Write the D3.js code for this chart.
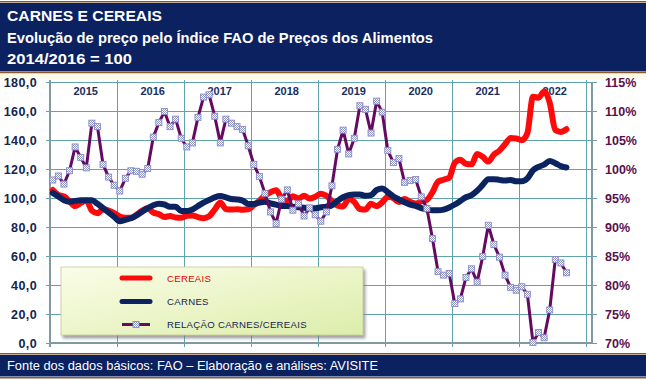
<!DOCTYPE html>
<html><head><meta charset="utf-8">
<script src="https://cdn.jsdelivr.net/npm/d3@7"></script>
<style>
html,body{margin:0;padding:0;background:#fff;}
svg{display:block;font-family:"Liberation Sans",Arial,sans-serif;}
</style></head>
<body>
<svg id="chart" width="646" height="380"></svg>
<script>
// ---- data (monthly, Jan 2015 .. Sep 2022) ----
const years = ["2015","2016","2017","2018","2019","2020","2021","2022"];
const cereais = [
 105.5,102.2,101.1,97.8,94.4,96.6,98.3,91.3,89.5,92.3,91.3,89.5,
 87.3,86.4,86.3,88.4,91.3,92.9,90.0,88.9,86.9,87.6,86.6,86.4,
 87.7,88.0,86.8,86.1,87.4,92.0,96.9,92.4,92.0,92.3,91.9,92.2,
 95.1,98.1,101.8,104.0,105.3,99.7,98.0,101.2,99.6,101.5,99.6,100.9,
 102.9,101.5,97.8,94.8,94.2,99.4,97.3,92.4,92.0,96.0,94.4,97.0,
 100.8,99.9,97.2,99.3,97.4,96.2,97.7,98.7,104.0,111.2,112.6,114.0,
 124.3,126.3,123.6,123.2,130.4,128.4,125.1,129.9,132.7,137.1,141.3,141.0,
 139.9,144.8,169.8,169.2,173.5,165.8,146.9,145.6,147.4];
const carnes = [
 103.5,101.0,98.5,97.5,98.0,98.5,98.5,98.5,96.0,93.0,90.0,87.0,
 84.0,85.0,86.0,88.0,90.5,93.0,95.0,96.0,95.5,94.0,94.0,91.0,
 91.0,92.0,94.5,96.8,98.6,100.4,101.3,100.4,99.3,99.0,98.2,95.9,
 95.9,96.8,97.5,96.3,95.4,94.5,94.5,94.0,93.6,93.3,92.9,92.9,
 93.6,94.0,95.0,98.0,100.5,102.0,102.5,102.5,101.5,102.0,105.5,106.5,
 104.0,101.0,99.0,97.0,95.5,94.5,93.0,92.0,91.5,91.5,92.0,93.5,
 95.5,98.0,100.5,102.0,105.0,109.0,113.0,113.0,112.5,112.0,112.5,111.5,
 111.5,113.5,119.0,121.5,123.0,125.5,124.0,122.0,121.0];
const relacao = [
 98.1,98.8,97.4,99.7,103.8,102.0,100.2,107.9,107.3,100.8,98.6,97.2,
 96.2,98.4,99.7,99.6,99.1,100.1,105.5,108.0,109.9,107.3,108.6,105.3,
 103.8,104.5,108.9,112.4,112.8,109.1,104.5,108.6,107.9,107.3,106.8,104.0,
 100.8,98.7,95.8,92.6,90.6,94.8,96.4,92.9,94.0,91.9,93.3,92.1,
 91.0,92.6,97.1,103.4,106.7,102.6,105.3,110.9,110.3,106.2,111.7,109.8,
 103.2,101.1,101.8,97.7,98.0,98.2,95.2,93.2,88.0,82.3,81.7,82.0,
 76.8,77.6,81.3,82.8,80.5,84.9,90.3,87.0,84.8,81.7,79.6,79.1,
 79.7,78.4,70.1,71.8,70.9,75.7,84.4,83.8,82.1];
const leftTicks = [0,20,40,60,80,100,120,140,160,180];
const rightTicks = [70,75,80,85,90,95,100,105,110,115];
const seriesNames = ["CEREAIS","CARNES","RELAÇÃO CARNES/CEREAIS"];
const titleLines = ["CARNES E CEREAIS","Evolução de preço pelo Índice FAO de Preços dos Alimentos","2014/2016 = 100"];
const sourceText = "Fonte dos dados básicos: FAO – Elaboração e análises: AVISITE";

// ---- layout ----
const svg = d3.select("#chart");
const W = 646, H = 380;
const plot = {l:50, r:592, t:82, b:343};
const x = d3.scaleLinear().domain([0, years.length*12]).range([plot.l, 586]);
const yL = d3.scaleLinear().domain([0,180]).range([plot.b, plot.t]);
const yR = d3.scaleLinear().domain([70,115]).range([plot.b, plot.t]);

const defs = svg.append("defs");
const pat = defs.append("pattern").attr("id","chk").attr("width",2).attr("height",2).attr("patternUnits","userSpaceOnUse");
pat.append("rect").attr("width",2).attr("height",2).attr("fill","#ffffff");
pat.append("rect").attr("width",1).attr("height",1).attr("fill","#8d97cf");
pat.append("rect").attr("x",1).attr("y",1).attr("width",1).attr("height",1).attr("fill","#8d97cf");
const lg = defs.append("linearGradient").attr("id","lg").attr("x1","0").attr("y1","0").attr("x2","1").attr("y2","1");
lg.append("stop").attr("offset","0").attr("stop-color","#fbfde8");
lg.append("stop").attr("offset","1").attr("stop-color","#dcedaa");
const sh = defs.append("filter").attr("id","sh").attr("x","-10%").attr("y","-10%").attr("width","130%").attr("height","140%");
sh.append("feDropShadow").attr("dx",2).attr("dy",3).attr("stdDeviation",1.6).attr("flood-color","#777").attr("flood-opacity",0.7);

// ---- header ----
const brown = "#8a5a2e", navy = "#0c2160";
svg.append("rect").attr("x",0).attr("y",0).attr("width",W).attr("height",H).attr("fill","#fff");
svg.append("rect").attr("x",0).attr("y",1).attr("width",W).attr("height",1.5).attr("fill",brown);
svg.append("rect").attr("x",0).attr("y",3).attr("width",W).attr("height",68.5).attr("fill",navy);
svg.append("rect").attr("x",0).attr("y",72).attr("width",W).attr("height",1.5).attr("fill",brown);
svg.append("rect").attr("x",0).attr("y",73.5).attr("width",W).attr("height",6).attr("fill","#fdf9e8");
const tb = [21, 42.5, 63.5];
const tl = [155, 426, 125];
titleLines.forEach((t,i)=>{
  svg.append("text").attr("x",7).attr("y",tb[i]).attr("fill","#fff")
    .attr("font-size", 15.3).attr("font-weight","bold")
    .attr("textLength", tl[i]).attr("lengthAdjust","spacingAndGlyphs").text(t);
});

// ---- footer ----
svg.append("rect").attr("x",0).attr("y",353).attr("width",W).attr("height",1.5).attr("fill",brown);
svg.append("rect").attr("x",0).attr("y",355).attr("width",W).attr("height",21.5).attr("fill",navy);
svg.append("rect").attr("x",0).attr("y",377).attr("width",W).attr("height",1.5).attr("fill",brown);
svg.append("text").attr("x",7).attr("y",369.5).attr("fill","#fff").attr("font-size",12.5)
  .attr("textLength",371).attr("lengthAdjust","spacingAndGlyphs").text(sourceText);

// ---- grid ----
const gridC = "#5fa3ad";
const g = svg.append("g");
g.selectAll("line.h").data(leftTicks).join("line")
  .attr("x1",plot.l-4).attr("x2",plot.r+5).attr("y1",d=>yL(d)).attr("y2",d=>yL(d))
  .attr("stroke",gridC).attr("stroke-width",1).attr("shape-rendering","crispEdges");
g.selectAll("line.v").data(d3.range(1, years.length+1)).join("line")
  .attr("x1",d=>x(d*12)).attr("x2",d=>x(d*12)).attr("y1",plot.t-2).attr("y2",plot.b+4)
  .attr("stroke",gridC).attr("stroke-width",1).attr("shape-rendering","crispEdges");
g.append("line").attr("x1",plot.l).attr("x2",plot.l).attr("y1",plot.t-2).attr("y2",plot.b+4)
  .attr("stroke","#7f9aa3").attr("stroke-width",1.2).attr("shape-rendering","crispEdges");
g.append("line").attr("x1",plot.r).attr("x2",plot.r).attr("y1",plot.t).attr("y2",plot.b)
  .attr("stroke","#7f9aa3").attr("stroke-width",1.2).attr("shape-rendering","crispEdges");
g.append("line").attr("x1",plot.l).attr("x2",plot.r).attr("y1",plot.b).attr("y2",plot.b)
  .attr("stroke","#7f9aa3").attr("stroke-width",1.2).attr("shape-rendering","crispEdges");

// axis labels
g.selectAll("text.yl").data(leftTicks).join("text")
  .attr("x",37).attr("y",d=>yL(d)+4.5).attr("text-anchor","end")
  .attr("font-size",12.5).attr("font-weight","bold").attr("fill","#14244f")
  .attr("letter-spacing",0.4)
  .text(d=>d.toFixed(1).replace(".",","));
g.selectAll("text.yr").data(rightTicks).join("text")
  .attr("x",605).attr("y",d=>yR(d)+4.5)
  .attr("font-size",12.5).attr("font-weight","bold").attr("fill","#5a0f4d")
  .text(d=>d+"%");
g.selectAll("text.yr2").data(years).join("text")
  .attr("x",(d,i)=>x(i*12+6.4)).attr("y",94.5).attr("text-anchor","middle")
  .attr("font-size",11).attr("font-weight","bold").attr("fill","#1a2e5e")
  .text(d=>d);

// ---- series ----
const px = i => x(i+0.5);
const lineL = d3.line().x((d,i)=>px(i)).y(d=>yL(d)).curve(d3.curveMonotoneX);
const lineR = d3.line().x((d,i)=>px(i)).y(d=>yR(d));
svg.append("path").datum(cereais).attr("d",lineL).attr("fill","none")
  .attr("stroke","#ff0a0a").attr("stroke-width",6).attr("stroke-linejoin","round").attr("stroke-linecap","round");
svg.append("path").datum(carnes).attr("d",lineL).attr("fill","none")
  .attr("stroke","#0b2461").attr("stroke-width",6).attr("stroke-linejoin","round").attr("stroke-linecap","round");
svg.append("path").datum(relacao).attr("d",lineR).attr("fill","none")
  .attr("stroke","#650a63").attr("stroke-width",3).attr("stroke-linejoin","round");
svg.append("g").selectAll("rect").data(relacao).join("rect")
  .attr("x",(d,i)=>px(i)-3).attr("y",d=>yR(d)-3).attr("width",6).attr("height",6)
  .attr("fill","url(#chk)").attr("stroke","#8c88c2").attr("stroke-width",0.9);

// ---- legend ----
const leg = svg.append("g");
leg.append("rect").attr("x",61).attr("y",267).attr("width",302).attr("height",68)
  .attr("fill","url(#lg)").attr("stroke","#c4cc9a").attr("stroke-width",0.8).attr("filter","url(#sh)");
const legY = [278, 301.5, 324.5];
const legCol = ["#ff0a0a","#0b2461","#650a63"];
const legTxt = ["#e00000","#14244f","#14244f"];
seriesNames.forEach((n,i)=>{
  leg.append("line").attr("x1",122).attr("x2",150).attr("y1",legY[i]).attr("y2",legY[i])
    .attr("stroke",legCol[i]).attr("stroke-width", i<2?5:3).attr("stroke-linecap", i<2?"round":"butt");
  if(i===2){
    leg.append("rect").attr("x",133).attr("y",legY[i]-3).attr("width",6).attr("height",6)
      .attr("fill","url(#chk)").attr("stroke","#8c88c2").attr("stroke-width",0.9);
  }
  leg.append("text").attr("x",167).attr("y",legY[i]+3.5).attr("font-size",9.6)
    .attr("fill",legTxt[i]).attr("letter-spacing",0.3).text(n);
});
</script>
</body></html>
